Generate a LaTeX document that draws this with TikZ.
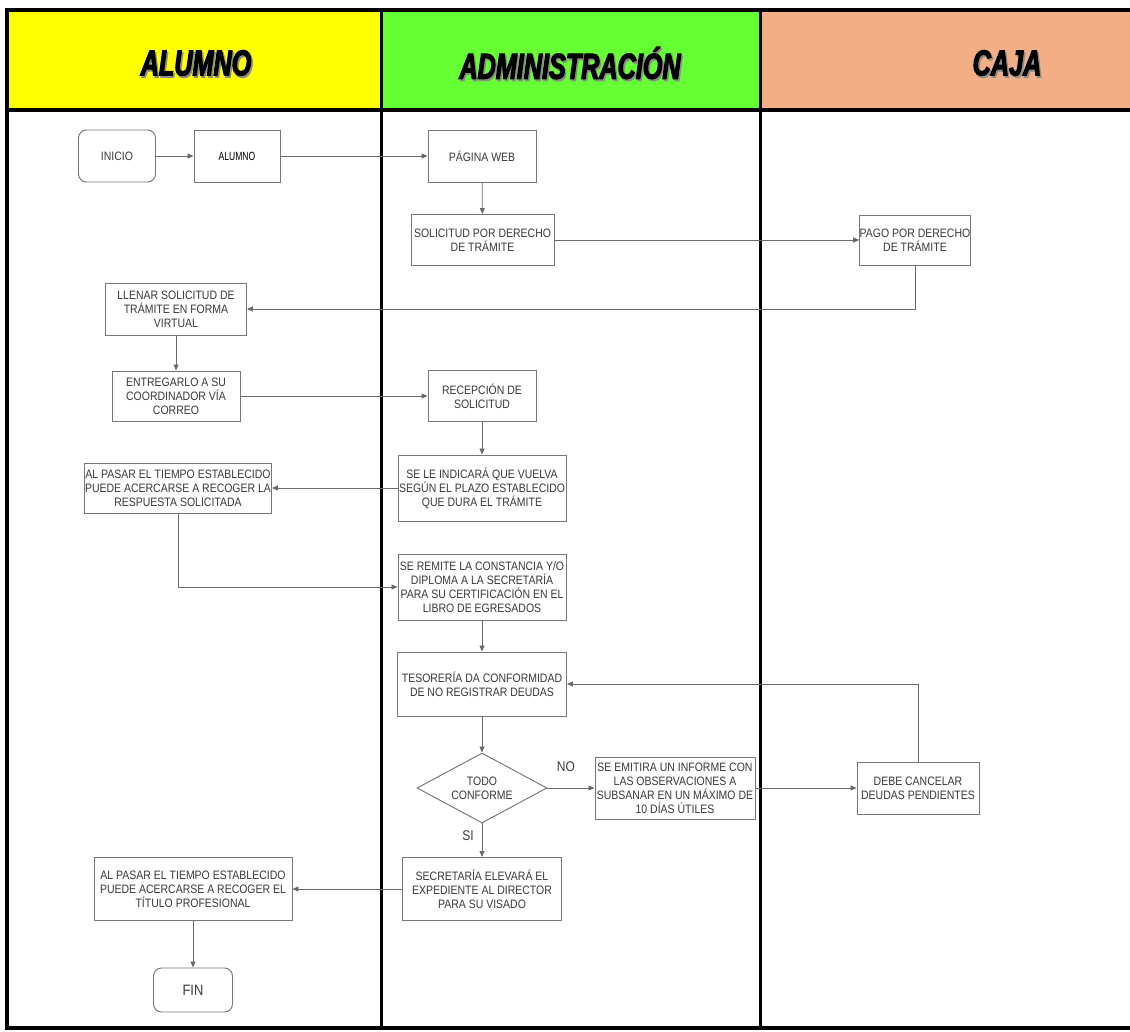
\documentclass[tikz,border=0pt]{standalone}
\usepackage{fontspec}
\setmainfont{Liberation Sans}
\newfontfamily\nodefont[FakeStretch=0.86]{Liberation Sans}
\newfontfamily\narrowfont[FakeStretch=0.72]{Liberation Sans}
\newfontfamily\headfont[FakeStretch=0.70,BoldItalicFeatures={FakeBold=3}]{Liberation Sans}
\usetikzlibrary{arrows.meta,shapes.geometric}
\definecolor{hyellow}{HTML}{FFFF00}
\definecolor{hgreen}{HTML}{66FF33}
\definecolor{hpeach}{HTML}{F2AE84}
\definecolor{boxline}{HTML}{777777}
\definecolor{conline}{HTML}{6A6A6A}
\definecolor{txt}{HTML}{3A3A3A}
\begin{document}
\begin{tikzpicture}[x=1pt,y=-1pt,
  proc/.style={draw=boxline, line width=0.95pt, fill=white, rectangle, align=center,
    inner sep=0pt, text=txt, font=\nodefont\fontsize{12.2}{14}\selectfont},
  term/.style={proc, rounded corners=8pt},
  decis/.style={proc, diamond, aspect=1.857, minimum width=130, minimum height=70},
  conn/.style={draw=conline, line width=0.8pt, -{Triangle[length=6pt,width=5pt]}},
  lanebig/.style={line width=4pt, black},
  lanesep/.style={line width=3pt, black},
  headtxt/.style={font=\headfont\bfseries\itshape\fontsize{36}{40}\selectfont, text=black},
  headshadow/.style={headtxt, text=black!45},
  lbl/.style={font=\nodefont\fontsize{14}{16}\selectfont, text=txt}
]
\useasboundingbox (0,0) rectangle (1130,1032);
\fill[white] (0,0) rectangle (1130,1032);
% header
\fill[hyellow] (5,10) rectangle (381,110);
\fill[hgreen] (381,10) rectangle (760,110);
\fill[hpeach] (760,10) rectangle (1130,110);
\node[headshadow] (hals) at (197.5,65) {ALUMNO};
\node[headshadow] (hads) at (571.5,65) {ADMINISTRACIÓN};
\node[headshadow] (hcas) at (1008.5,65) {CAJA};
\node[headtxt] (hal) at (196,63) {ALUMNO};
\node[headtxt] (had) at (570,63) {ADMINISTRACIÓN};
\node[headtxt] (hca) at (1007,63) {CAJA};
% frame
\draw[lanebig] (5,10) -- (1130,10);
\draw[lanebig] (5,110) -- (1130,110);
\draw[lanebig] (7,8) -- (7,1030);
\draw[lanebig] (5,1028) -- (1130,1028);
\draw[lanesep] (381,10) -- (381,1028);
\draw[lanesep] (760,10) -- (760,1028);
% nodes
\node[term, minimum width=77, minimum height=52] (inicio) at (117,156) {INICIO};
\node[proc, minimum width=86, minimum height=52, text=black,
  font=\narrowfont\fontsize{11.9}{14}\selectfont] (alumno) at (237,156) {ALUMNO};
\node[proc, minimum width=108, minimum height=52] (pagina) at (482,156) {PÁGINA WEB};
\node[proc, minimum width=143, minimum height=51] (solicitud) at (482.5,240) {SOLICITUD POR DERECHO\\DE TRÁMITE};
\node[proc, minimum width=110, minimum height=50] (pago) at (915,240) {PAGO POR DERECHO\\DE TRÁMITE};
\node[proc, minimum width=141, minimum height=52] (llenar) at (176,309) {LLENAR SOLICITUD DE\\TRÁMITE EN FORMA\\VIRTUAL};
\node[proc, minimum width=128, minimum height=50] (entregar) at (176,396) {ENTREGARLO A SU\\COORDINADOR VÍA\\CORREO};
\node[proc, minimum width=108, minimum height=51] (recepcion) at (482,396) {RECEPCIÓN DE\\SOLICITUD};
\node[proc, minimum width=168, minimum height=66] (indicara) at (482,488) {SE LE INDICARÁ QUE VUELVA\\SEGÚN EL PLAZO ESTABLECIDO\\QUE DURA EL TRÁMITE};
\node[proc, minimum width=187, minimum height=50] (pasar1) at (178,488) {AL PASAR EL TIEMPO ESTABLECIDO\\PUEDE ACERCARSE A RECOGER LA\\RESPUESTA SOLICITADA};
\node[proc, minimum width=168, minimum height=66] (remite) at (482,587) {SE REMITE LA CONSTANCIA Y/O\\DIPLOMA A LA SECRETARÍA\\PARA SU CERTIFICACIÓN EN EL\\LIBRO DE EGRESADOS};
\node[proc, minimum width=169, minimum height=64] (tesoreria) at (482,684) {TESORERÍA DA CONFORMIDAD\\DE NO REGISTRAR DEUDAS};
\node[decis] (cond) at (482,788) {TODO\\CONFORME};
\node[proc, minimum width=160, minimum height=62] (emitira) at (675,788) {SE EMITIRA UN INFORME CON\\LAS OBSERVACIONES A\\SUBSANAR EN UN MÁXIMO DE\\10 DÍAS ÚTILES};
\node[proc, minimum width=122, minimum height=52] (debe) at (918,788) {DEBE CANCELAR\\DEUDAS PENDIENTES};
\node[proc, minimum width=159, minimum height=63] (secretaria) at (482,889) {SECRETARÍA ELEVARÁ EL\\EXPEDIENTE AL DIRECTOR\\PARA SU VISADO};
\node[proc, minimum width=198, minimum height=63] (pasar2) at (193,889) {AL PASAR EL TIEMPO ESTABLECIDO\\PUEDE ACERCARSE A RECOGER EL\\TÍTULO PROFESIONAL};
\node[term, minimum width=79, minimum height=44, font=\nodefont\fontsize{15}{17}\selectfont] (fin) at (193,990) {FIN};
% labels
\node[lbl] (lno) at (566,767) {NO};
\node[lbl] (lsi) at (468,836) {SI};
% connectors
\draw[conn] (inicio) -- (alumno);
\draw[conn] (alumno) -- (pagina);
\draw[conn] (pagina) -- (solicitud);
\draw[conn] (solicitud) -- (pago);
\draw[conn] (pago.south) |- (llenar.east);
\draw[conn] (llenar) -- (entregar);
\draw[conn] (entregar) -- (recepcion);
\draw[conn] (recepcion) -- (indicara);
\draw[conn] (indicara) -- (pasar1);
\draw[conn] (pasar1.south) |- (remite.west);
\draw[conn] (remite) -- (tesoreria);
\draw[conn] (tesoreria) -- (cond);
\draw[conn] (cond) -- (emitira);
\draw[conn] (emitira) -- (debe);
\draw[conn] (debe.north) |- (tesoreria.east);
\draw[conn] (cond) -- (secretaria);
\draw[conn] (secretaria) -- (pasar2);
\draw[conn] (pasar2) -- (fin);
\end{tikzpicture}
\end{document}
